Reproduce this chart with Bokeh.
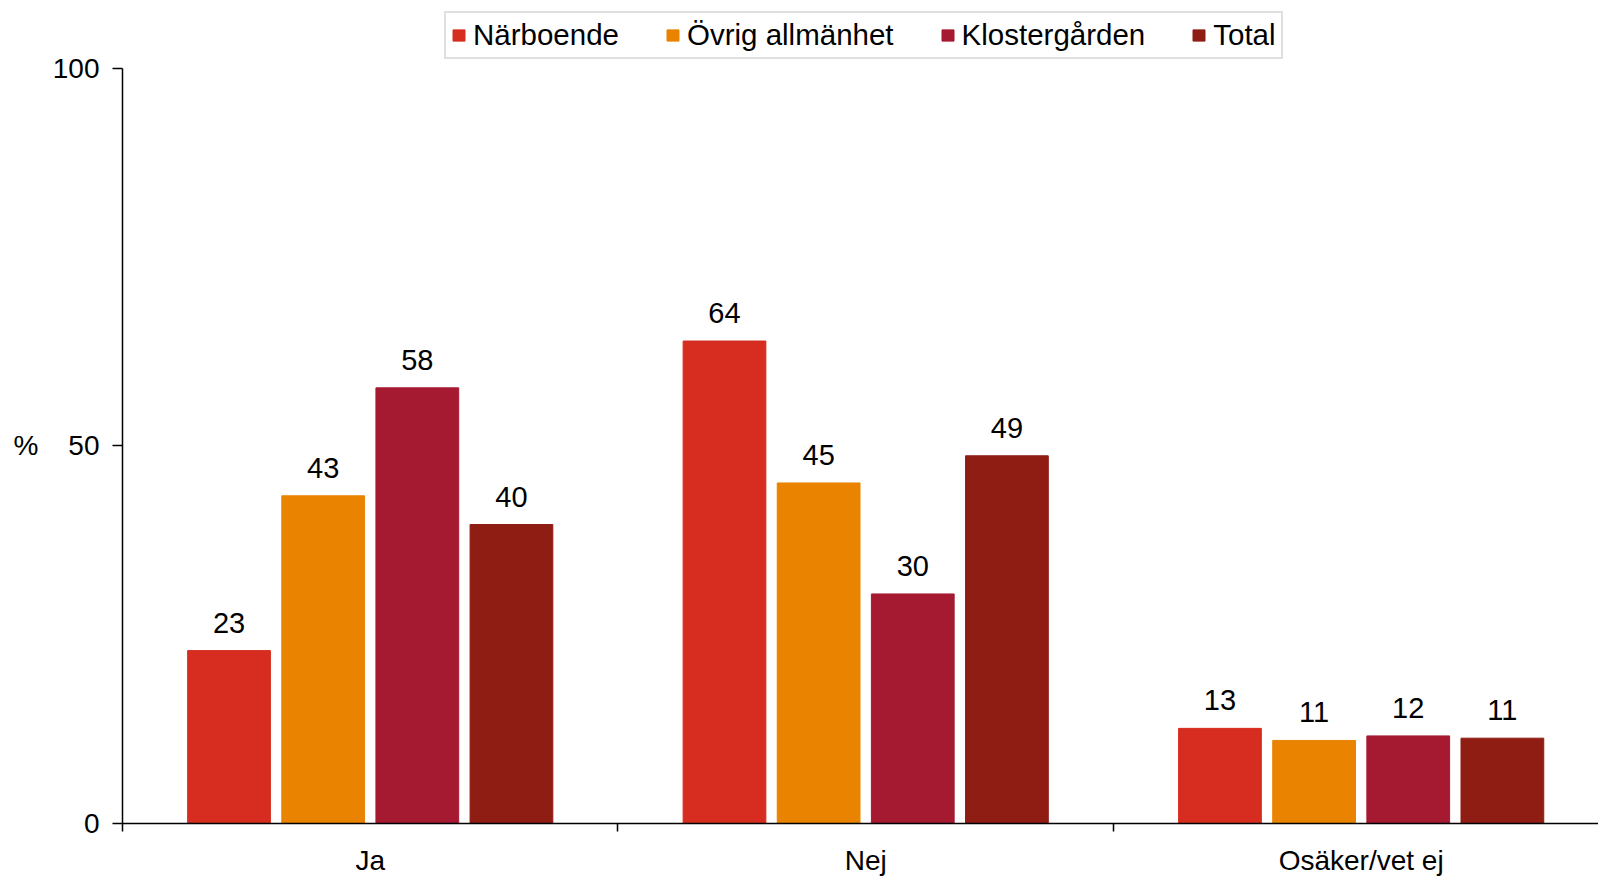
from bokeh.plotting import figure
from bokeh.models import Range1d, FixedTicker, Legend, LegendItem, ColumnDataSource, LinearAxis
from bokeh.embed import file_html
from bokeh.resources import INLINE

categories = ["Ja", "Nej", "Osäker/vet ej"]
series = ["Närboende", "Övrig allmänhet", "Klostergården", "Total"]
narboende = [22.9, 63.9, 12.6]
ovrig = [43.4, 45.1, 11.0]
kloster = [57.7, 30.4, 11.6]
total = [39.6, 48.7, 11.3]
y_ticks = [0, 50, 100]
y_unit = "%"

colors = ["#D62D20", "#E98300", "#A51931", "#8F1D14"]
offsets = [-0.285, -0.095, 0.095, 0.285]
bar_w = 0.167
FONT = "Liberation Sans"

# frame extends above the 100 line to leave room for the legend; axis line bounded to 0..100
p = figure(frame_width=1476, frame_height=823, output_backend="svg", toolbar_location=None,
           x_range=Range1d(0, 2.979), y_range=Range1d(0, 109.0),
           min_border_left=122, min_border_right=0, min_border_top=0, min_border_bottom=53)
p.outline_line_color = None
p.xgrid.visible = False
p.ygrid.visible = False
p.background_fill_color = "white"
p.border_fill_color = "white"

items = []
for s_name, vals, col, off in zip(series, [narboende, ovrig, kloster, total], colors, offsets):
    xs = [i + 0.5 + off for i in range(len(categories))]
    src = ColumnDataSource(dict(x=xs, top=vals, lab=["%.0f" % v for v in vals]))
    r = p.vbar(x="x", top="top", width=bar_w, bottom=0, source=src,
               fill_color=col, line_color=col, line_width=1)
    p.text(x="x", y="top", text="lab", source=src, text_align="center",
           text_baseline="middle", y_offset=-28, text_font_size="29px",
           text_font={"value": FONT}, text_color="black")
    items.append(LegendItem(label=s_name, renderers=[r]))

# y axis
yax = p.yaxis[0]
yax.ticker = FixedTicker(ticks=y_ticks, minor_ticks=[])
yax.bounds = (0, 100)
yax.major_tick_out = 10
yax.major_tick_in = 0
yax.minor_tick_line_color = None
yax.axis_line_width = 1.5
yax.major_tick_line_width = 1.5
yax.axis_line_color = "black"
yax.major_tick_line_color = "black"
yax.major_label_text_font = FONT
yax.major_label_text_font_size = "28px"
yax.major_label_text_color = "black"
yax.major_label_standoff = 13

# horizontal unit label "%" next to the 50 tick, as a second left axis
unit_ax = LinearAxis(ticker=FixedTicker(ticks=[y_ticks[1]], minor_ticks=[]),
                     major_label_overrides={y_ticks[1]: y_unit})
unit_ax.axis_line_color = None
unit_ax.major_tick_line_color = None
unit_ax.minor_tick_line_color = None
unit_ax.major_tick_out = 0
unit_ax.major_tick_in = 0
unit_ax.major_label_text_font = FONT
unit_ax.major_label_text_font_size = "28px"
unit_ax.major_label_text_color = "black"
unit_ax.major_label_standoff = 11
p.add_layout(unit_ax, "left")

# x axis
xax = p.xaxis[0]
xax.ticker = FixedTicker(ticks=[0.5, 1.5, 2.5], minor_ticks=[0, 1, 2, 3])
xax.major_label_overrides = {0.5: categories[0], 1.5: categories[1], 2.5: categories[2]}
xax.major_tick_line_color = None
xax.major_tick_out = 0
xax.major_tick_in = 0
xax.minor_tick_out = 8
xax.minor_tick_in = 0
xax.minor_tick_line_color = "black"
xax.minor_tick_line_width = 1.5
xax.axis_line_width = 1.5
xax.axis_line_color = "black"
xax.major_label_text_font = FONT
xax.major_label_text_font_size = "28px"
xax.major_label_text_color = "black"
xax.major_label_standoff = 13

legend = Legend(items=items, orientation="horizontal", location=(322, 764),
                border_line_color="#c0c0c0", border_line_width=2,
                label_text_font=FONT, label_text_font_size="29.5px",
                label_text_color="black",
                glyph_width=15, glyph_height=14, label_standoff=7,
                spacing=46, padding=5, margin=0)
p.add_layout(legend, "center")

open("out.html", "w").write(file_html(p, INLINE))
